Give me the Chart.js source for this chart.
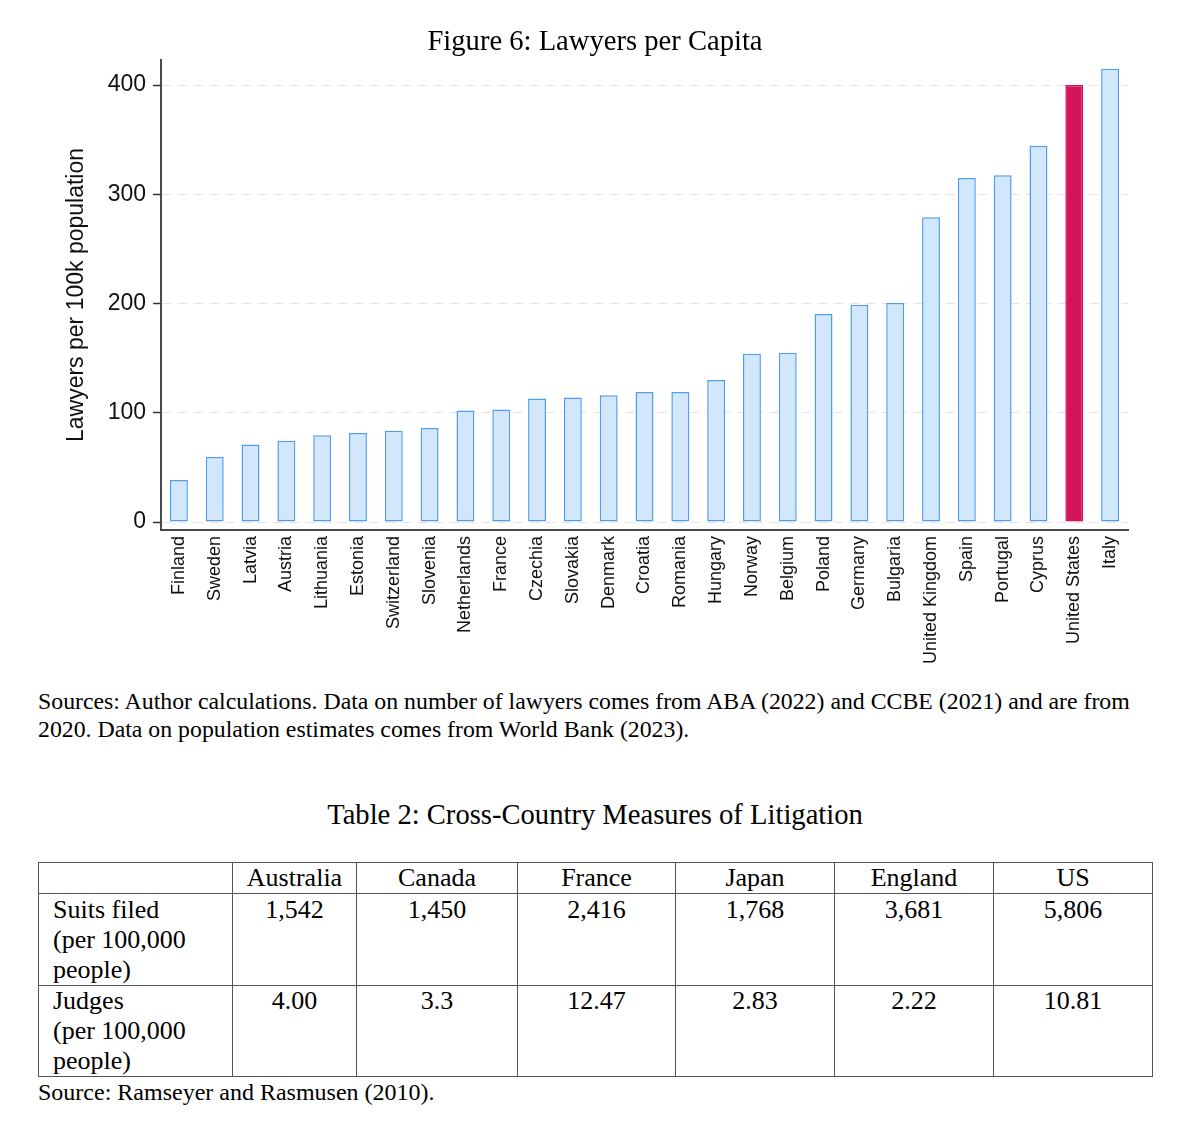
<!DOCTYPE html>
<html>
<head>
<meta charset="utf-8">
<script src="https://cdn.jsdelivr.net/npm/chart.js@4/dist/chart.umd.min.js"></script>
<style>
html, body { margin:0; padding:0; background:#fff; }
body { width:1200px; height:1128px; position:relative; overflow:hidden;
  font-family:"Liberation Serif","Times New Roman",serif; color:#000; }
#figTitle { position:absolute; left:0; width:1190px; top:23px; text-align:center; font-size:28.6px; line-height:36px; }
#chartBox { position:absolute; left:0; top:0; width:1200px; height:680px; }
#sources { position:absolute; left:38px; top:687px; font-size:23.8px; line-height:28px; white-space:nowrap; }
#tabTitle { position:absolute; left:0; width:1190px; top:797px; text-align:center; font-size:28.6px; line-height:36px; }
#litTable { position:absolute; left:38px; top:862px; border-collapse:collapse; table-layout:fixed;
  font-size:26px; line-height:30px; }
#litTable td { border:1.5px solid #555; vertical-align:top; text-align:center; padding:0; }
#litTable td.rowhead { text-align:left; padding-left:14px; }
#litTable tr.hdr td { height:30px; padding-top:0px; }
#litTable tr.r1 td { height:89px; padding-top:1px; }
#litTable tr.r2 td { height:88px; padding-top:0px; }
#tabSource { position:absolute; left:38px; top:1078px; font-size:24px; line-height:28px; }
</style>
</head>
<body>
<div id="chartBox"><canvas id="c" width="1200" height="680"></canvas></div>
<div id="figTitle">Figure 6: Lawyers per Capita</div>
<div id="sources">Sources: Author calculations. Data on number of lawyers comes from ABA (2022) and CCBE (2021) and are from<br>2020. Data on population estimates comes from World Bank (2023).</div>
<div id="tabTitle">Table 2: Cross-Country Measures of Litigation</div>
<table id="litTable">
  <colgroup>
    <col style="width:194px"><col style="width:124px"><col style="width:161px"><col style="width:158px">
    <col style="width:159px"><col style="width:159px"><col style="width:159px">
  </colgroup>
  <tbody id="tbody"></tbody>
</table>
<div id="tabSource">Source: Ramseyer and Rasmusen (2010).</div>

<script>
// ---- Chart data ----
const countries = ["Finland","Sweden","Latvia","Austria","Lithuania","Estonia","Switzerland","Slovenia",
  "Netherlands","France","Czechia","Slovakia","Denmark","Croatia","Romania","Hungary","Norway","Belgium",
  "Poland","Germany","Bulgaria","United Kingdom","Spain","Portugal","Cyprus","United States","Italy"];
const lawyersPer100k = [38.5, 59.5, 71, 74.5, 79.5, 81.5, 83.5, 86, 102, 103, 113, 114, 116, 119, 119,
  130, 154, 155, 190.5, 199, 200.5, 279, 315, 317.5, 344.5, 400, 415];
const highlightCountry = "United States";
const yTickValues = [0, 100, 200, 300, 400];
const yAxisTitle = "Lawyers per 100k population";

// ---- Table data ----
const tableCountries = ["Australia","Canada","France","Japan","England","US"];
const suitsFiled = ["1,542","1,450","2,416","1,768","3,681","5,806"];
const judges = ["4.00","3.3","12.47","2.83","2.22","10.81"];
const rowLabels = ["Suits filed<br>(per 100,000<br>people)", "Judges<br>(per 100,000<br>people)"];

// build table
const tb = document.getElementById('tbody');
function addRow(cls, head, vals) {
  const tr = document.createElement('tr'); tr.className = cls;
  const th = document.createElement('td'); th.className = 'rowhead'; th.innerHTML = head; tr.appendChild(th);
  vals.forEach(v => { const td = document.createElement('td'); td.textContent = v; tr.appendChild(td); });
  tb.appendChild(tr);
}
addRow('hdr', '', tableCountries);
addRow('r1', rowLabels[0], suitsFiled);
addRow('r2', rowLabels[1], judges);

// ---- Chart ----
const fillNormal = '#d2e7fc', borderNormal = '#4f9df0', highlightColor = '#d4145a';
const bgColors = countries.map(c => c === highlightCountry ? highlightColor : fillNormal);
const bdColors = countries.map(c => c === highlightCountry ? highlightColor : borderNormal);
const sans = "'Liberation Sans', Arial, Helvetica, sans-serif";

new Chart(document.getElementById('c'), {
  type: 'bar',
  data: {
    labels: countries,
    datasets: [{
      data: lawyersPer100k,
      backgroundColor: bgColors,
      borderColor: bdColors,
      borderWidth: 1.5,
      borderSkipped: false,
      barPercentage: 0.5,
      categoryPercentage: 1.0
    }]
  },
  options: {
    responsive: false,
    animation: false,
    devicePixelRatio: 1,
    layout: { padding: { left: 0, top: 60, right: 72, bottom: 0 } },
    plugins: { legend: { display: false }, tooltip: { enabled: false }, title: { display: false } },
    scales: {
      x: {
        afterFit: s => { s.height = 150; },
        ticks: { minRotation: 90, maxRotation: 90, autoSkip: false, padding: 6,
          font: { family: sans, size: 18 }, color: '#111' },
        grid: { display: false, drawTicks: false },
        border: { display: true, color: '#4a4a4a', width: 2 }
      },
      y: {
        min: -7.3, max: 423,
        afterBuildTicks: s => { s.ticks = yTickValues.map(v => ({ value: v })); },
        afterFit: s => { s.width = 161; },
        ticks: { padding: 7, font: { family: sans, size: 23 }, color: '#111' },
        grid: { color: '#e4e4e4', lineWidth: 1, tickColor: '#333', tickLength: 8, tickWidth: 1.5, tickBorderDash: [] },
        border: { display: true, color: '#4a4a4a', width: 2, dash: [9, 7] },
        title: { display: true, text: yAxisTitle, font: { family: sans, size: 23 }, color: '#111',
          padding: { top: 63, bottom: 0 } }
      }
    }
  }
});
</script>
</body>
</html>
